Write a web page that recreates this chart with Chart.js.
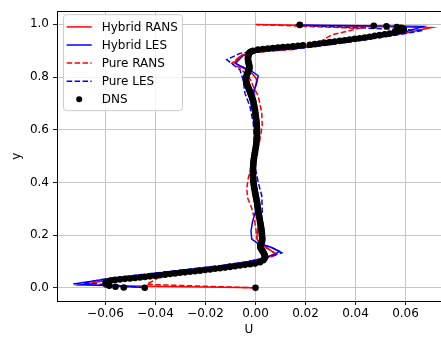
<!DOCTYPE html>
<html>
<head>
<meta charset="utf-8">
<script src="https://cdn.jsdelivr.net/npm/chart.js@4.4.0/dist/chart.umd.min.js"></script>
<style>
  html, body { margin: 0; padding: 0; background: #ffffff; }
  #wrap { width: 441px; height: 338px; }
</style>
</head>
<body>
<div id="wrap"><canvas id="c" width="441" height="338"></canvas></div>
<script>
// Axis ticks
const xTicks = [-0.06, -0.04, -0.02, 0.0, 0.02, 0.04, 0.06];
const xTickLabels = ['\u22120.06', '\u22120.04', '\u22120.02', '0.00', '0.02', '0.04', '0.06'];
const yTicks = [0.0, 0.2, 0.4, 0.6, 0.8, 1.0];
const yTickLabels = ['0.0', '0.2', '0.4', '0.6', '0.8', '1.0'];
const seriesNames = ['Hybrid RANS', 'Hybrid LES', 'Pure RANS', 'Pure LES', 'DNS'];

// Hybrid RANS profile
const hybridRansU = [0.0000, -0.0700, -0.0600, -0.0450, -0.0300, -0.0150, -0.0040, 0.0030, 0.0078, 0.0050,
  0.0015, 0.0005, 0.0010, 0.0014, 0.0006, -0.0004, -0.0008, -0.0004, 0.0004, 0.0006,
  0.0001, -0.0010, 0.0003, 0.0006, -0.0010, -0.0045, -0.0085, -0.0060, 0.0010, 0.0150,
  0.0300, 0.0450, 0.0600, 0.0703, 0.0005];
const hybridRansY = [0.0000, 0.0100, 0.0280, 0.0460, 0.0620, 0.0790, 0.0940, 0.1100, 0.1300, 0.1500,
  0.1680, 0.1900, 0.2300, 0.2800, 0.3300, 0.3900, 0.4500, 0.5100, 0.5700, 0.6300,
  0.6800, 0.7400, 0.7700, 0.7900, 0.8100, 0.8320, 0.8550, 0.8800, 0.8950, 0.9070,
  0.9250, 0.9450, 0.9670, 0.9880, 0.9995];

// Hybrid LES profile
const hybridLesU = [-0.0445, -0.0729, -0.0600, -0.0450, -0.0300, -0.0150, -0.0040, 0.0030, 0.0080, 0.0095,
  0.0060, 0.0010, -0.0015, -0.0018, -0.0012, 0.0000, 0.0004, -0.0001, -0.0008, -0.0008,
  -0.0002, 0.0004, 0.0006, 0.0002, -0.0006, -0.0006, 0.0005, 0.0011, -0.0020, -0.0060,
  -0.0080, -0.0050, 0.0020, 0.0150, 0.0300, 0.0450, 0.0580, 0.0671, 0.0160];
const hybridLesY = [0.0010, 0.0150, 0.0330, 0.0500, 0.0660, 0.0820, 0.0970, 0.1120, 0.1280, 0.1390,
  0.1550, 0.1680, 0.1850, 0.2150, 0.2500, 0.2900, 0.3300, 0.3700, 0.4200, 0.4700,
  0.5200, 0.5700, 0.6200, 0.6700, 0.7100, 0.7500, 0.7800, 0.8050, 0.8250, 0.8420,
  0.8520, 0.8820, 0.8980, 0.9080, 0.9260, 0.9460, 0.9660, 0.9925, 0.9980];

// Pure RANS profile
const pureRansU = [0.0000, -0.0435, -0.0362, -0.0250, -0.0150, -0.0040, 0.0040, 0.0088, 0.0050, 0.0015,
  0.0005, 0.0002, -0.0005, -0.0015, -0.0031, -0.0035, -0.0029, -0.0022, -0.0008, 0.0005,
  0.0018, 0.0027, 0.0025, 0.0011, -0.0009, -0.0020, -0.0060, -0.0095, -0.0055, 0.0020,
  0.0150, 0.0250, 0.0305, 0.0415, 0.0000];
const pureRansY = [0.0000, 0.0130, 0.0525, 0.0650, 0.0775, 0.0920, 0.1100, 0.1270, 0.1480, 0.1650,
  0.1900, 0.2200, 0.2650, 0.3020, 0.3400, 0.3770, 0.4150, 0.4400, 0.4800, 0.5150,
  0.5650, 0.6150, 0.6650, 0.7280, 0.7650, 0.7900, 0.8340, 0.8520, 0.8840, 0.8960,
  0.9050, 0.9300, 0.9600, 0.9850, 0.9995];

// Pure LES profile
const pureLesU = [-0.0445, -0.0690, -0.0600, -0.0450, -0.0300, -0.0150, -0.0040, 0.0040, 0.0105, 0.0070,
  0.0030, 0.0015, 0.0018, 0.0027, 0.0025, 0.0011, 0.0000, -0.0004, -0.0005, -0.0009,
  -0.0022, -0.0042, -0.0049, -0.0062, -0.0115, -0.0062, 0.0000, 0.0150, 0.0300, 0.0450,
  0.0580, 0.0670, 0.0160];
const pureLesY = [0.0010, 0.0185, 0.0340, 0.0510, 0.0670, 0.0830, 0.0980, 0.1130, 0.1330, 0.1500,
  0.1650, 0.1900, 0.2400, 0.2900, 0.3500, 0.4000, 0.4500, 0.5000, 0.5760, 0.6260,
  0.6880, 0.7380, 0.7880, 0.8270, 0.8660, 0.8900, 0.8990, 0.9060, 0.9230, 0.9430,
  0.9620, 0.9770, 0.9970];

// DNS samples, lower wall to upper wall
const dnsU = [
  0.0000, -0.0443, -0.0527, -0.0560, -0.0585, -0.0597, -0.0600, -0.0593, -0.0578,
  -0.0562, -0.0542, -0.0522, -0.0502, -0.0482, -0.0462, -0.0442, -0.0422, -0.0402, -0.0382,
  -0.0362, -0.0342, -0.0322, -0.0302, -0.0282, -0.0262, -0.0242, -0.0222, -0.0202, -0.0182,
  -0.0162, -0.0142, -0.0122, -0.0102, -0.0082, -0.0062, -0.0042, -0.0022, -0.0002, 0.0018,
  0.0031, 0.0036, 0.0038, 0.0037, 0.0034, 0.0030, 0.0026, 0.0022, 0.0019,
  0.0020, 0.0023, 0.0026, 0.0027, 0.0027, 0.0026, 0.0026, 0.0025, 0.0024, 0.0023, 0.0022, 0.0021, 0.0019, 0.0018,
  0.0017, 0.0015, 0.0014, 0.0012, 0.0011, 0.0010, 0.0009, 0.0008, 0.0007, 0.0006, 0.0004, 0.0003, 0.0001, 0.0000,
  -0.0002, -0.0003, -0.0005, -0.0006, -0.0007, -0.0008, -0.0009, -0.0009, -0.0010, -0.0010, -0.0010, -0.0010, -0.0010,
  -0.0009, -0.0009, -0.0008, -0.0007, -0.0006, -0.0005, -0.0003, -0.0002, -0.0001, 0.0001,
  0.0002, 0.0003, 0.0004, 0.0005, 0.0005, 0.0006, 0.0006, 0.0006, 0.0006, 0.0006,
  0.0005, 0.0005, 0.0004, 0.0003, 0.0002, 0.0001, 0.0000, -0.0001, -0.0002, -0.0004,
  -0.0005, -0.0007, -0.0008, -0.0010, -0.0013, -0.0015, -0.0018, -0.0021, -0.0023, -0.0026,
  -0.0029, -0.0032, -0.0035, -0.0037, -0.0038, -0.0038, -0.0036, -0.0034, -0.0031, -0.0028,
  -0.0025, -0.0024, -0.0025, -0.0026, -0.0028, -0.0029, -0.0030, -0.0030, -0.0030, -0.0029,
  -0.0027, -0.0025, -0.0022, -0.0017, -0.0010,
  0.0010, 0.0030, 0.0050, 0.0070, 0.0090, 0.0110, 0.0130, 0.0150, 0.0170, 0.0190,
  0.0217, 0.0237, 0.0257, 0.0277, 0.0297, 0.0317, 0.0337, 0.0357, 0.0377, 0.0397,
  0.0417, 0.0437, 0.0457, 0.0477, 0.0497, 0.0517, 0.0537, 0.0557, 0.0577,
  0.0588, 0.0593, 0.0591, 0.0582, 0.0565, 0.0524, 0.0473, 0.0177];
const dnsY = [
  0.0000, 0.0005, 0.0015, 0.0040, 0.0080, 0.0130, 0.0180, 0.0235, 0.0275,
  0.0300, 0.0320, 0.0340, 0.0355, 0.0375, 0.0395, 0.0413, 0.0435, 0.0458, 0.0480,
  0.0500, 0.0523, 0.0547, 0.0570, 0.0588, 0.0610, 0.0632, 0.0652, 0.0675, 0.0698,
  0.0722, 0.0745, 0.0768, 0.0795, 0.0822, 0.0848, 0.0873, 0.0898, 0.0920, 0.0970,
  0.105, 0.111, 0.117, 0.123, 0.130, 0.137, 0.143, 0.149, 0.155,
  0.162, 0.169, 0.176, 0.183, 0.190, 0.197, 0.204, 0.211, 0.218, 0.225, 0.232, 0.239, 0.246, 0.253,
  0.261, 0.268, 0.275, 0.282, 0.290, 0.297, 0.304, 0.311, 0.319, 0.326, 0.333, 0.341, 0.348, 0.356,
  0.363, 0.371, 0.378, 0.386, 0.393, 0.401, 0.408, 0.416, 0.424, 0.431, 0.439, 0.446, 0.454,
  0.462, 0.469, 0.477, 0.485, 0.492, 0.500, 0.508, 0.515, 0.523, 0.531,
  0.538, 0.546, 0.554, 0.561, 0.569, 0.577, 0.584, 0.592, 0.600, 0.607,
  0.615, 0.622, 0.630, 0.637, 0.645, 0.652, 0.660, 0.667, 0.675, 0.682,
  0.690, 0.697, 0.704, 0.712, 0.719, 0.726, 0.733, 0.740, 0.747, 0.754,
  0.761, 0.768, 0.775, 0.782, 0.789, 0.796, 0.803, 0.810, 0.817, 0.823,
  0.830, 0.836, 0.842, 0.848, 0.854, 0.860, 0.866, 0.871, 0.876, 0.881,
  0.886, 0.890, 0.894, 0.897, 0.900,
  0.9040, 0.9060, 0.9085, 0.9100, 0.9125, 0.9140, 0.9150, 0.9165, 0.9190, 0.9210,
  0.9225, 0.9250, 0.9275, 0.9300, 0.9325, 0.9350, 0.9375, 0.9400, 0.9425, 0.9450,
  0.9475, 0.9500, 0.9530, 0.9565, 0.9590, 0.9625, 0.9650, 0.9690, 0.9750,
  0.9780, 0.9810, 0.9840, 0.9870, 0.9900, 0.9930, 0.9945, 0.9980];

function zipPoints(us, ys) {
  const n = Math.min(us.length, ys.length);
  const pts = [];
  for (let i = 0; i < n; i++) pts.push({ x: us[i], y: ys[i] });
  return pts;
}

const FONT = "'DejaVu Sans', 'Liberation Sans', sans-serif";
Chart.defaults.font.family = FONT;
Chart.defaults.font.size = 12;
Chart.defaults.color = '#000000';

const dashPattern = [5.5, 2.4];

const lineSet = (label, us, ys, color, dashed, order) => ({
  label,
  data: zipPoints(us, ys),
  showLine: true,
  borderColor: color,
  backgroundColor: color,
  borderWidth: 1.5,
  borderDash: dashed ? dashPattern : [],
  pointRadius: 0,
  pointHoverRadius: 0,
  tension: 0,
  order
});

// Legend box in the upper-left corner of the plotting area
const legendBox = {
  id: 'legendBox',
  afterDatasetsDraw(chart) {
    const { ctx, chartArea } = chart;
    const x0 = chartArea.left + 6.5, y0 = chartArea.top + 3.5, w = 119, h = 96, r = 3;
    ctx.save();
    ctx.beginPath();
    ctx.moveTo(x0 + r, y0);
    ctx.lineTo(x0 + w - r, y0);
    ctx.arcTo(x0 + w, y0, x0 + w, y0 + r, r);
    ctx.lineTo(x0 + w, y0 + h - r);
    ctx.arcTo(x0 + w, y0 + h, x0 + w - r, y0 + h, r);
    ctx.lineTo(x0 + r, y0 + h);
    ctx.arcTo(x0, y0 + h, x0, y0 + h - r, r);
    ctx.lineTo(x0, y0 + r);
    ctx.arcTo(x0, y0, x0 + r, y0, r);
    ctx.closePath();
    ctx.fillStyle = 'rgba(255,255,255,0.8)';
    ctx.fill();
    ctx.strokeStyle = '#cccccc';
    ctx.lineWidth = 1;
    ctx.stroke();

    chart.data.datasets.forEach((d, i) => {
      const cy = y0 + 12.2 + i * 18.1;
      const hx0 = x0 + 3.2, hx1 = x0 + 28.2;
      if (d.showLine) {
        ctx.beginPath();
        ctx.setLineDash(d.borderDash || []);
        ctx.strokeStyle = d.borderColor;
        ctx.lineWidth = d.borderWidth;
        ctx.moveTo(hx0, cy);
        ctx.lineTo(hx1, cy);
        ctx.stroke();
        ctx.setLineDash([]);
      } else {
        ctx.beginPath();
        ctx.fillStyle = d.backgroundColor;
        ctx.arc((hx0 + hx1) / 2, cy, 3, 0, Math.PI * 2);
        ctx.fill();
      }
      ctx.fillStyle = '#000000';
      ctx.font = '12px ' + FONT;
      ctx.textAlign = 'left';
      ctx.textBaseline = 'middle';
      ctx.fillText(d.label, x0 + 38.2, cy + 0.5);
    });
    ctx.restore();
  }
};

new Chart(document.getElementById('c'), {
  type: 'scatter',
  data: {
    datasets: [
      lineSet(seriesNames[0], hybridRansU, hybridRansY, '#ff0000', false, 5),
      lineSet(seriesNames[1], hybridLesU, hybridLesY, '#0000ff', false, 4),
      lineSet(seriesNames[2], pureRansU, pureRansY, '#ff0000', true, 3),
      lineSet(seriesNames[3], pureLesU, pureLesY, '#0000ff', true, 2),
      {
        label: seriesNames[4],
        data: zipPoints(dnsU, dnsY),
        showLine: false,
        pointRadius: 3.3,
        pointHoverRadius: 3.3,
        pointBorderWidth: 0,
        backgroundColor: '#000000',
        borderColor: '#000000',
        order: 1
      }
    ]
  },
  options: {
    responsive: false,
    animation: false,
    events: [],
    layout: { padding: 0, autoPadding: false },
    plugins: { legend: { display: false }, tooltip: { enabled: false } },
    scales: {
      x: {
        type: 'linear',
        position: 'bottom',
        min: -0.0794,
        max: 0.0742,
        afterBuildTicks: s => { s.ticks = xTicks.map(v => ({ value: v })); },
        afterFit: s => { s.height = 37; },
        ticks: {
          autoSkip: false, maxRotation: 0, padding: 2,
          font: { size: 12 }, color: '#000000',
          callback: (v, i) => xTickLabels[i]
        },
        grid: { color: '#c6c6c6', lineWidth: 1, tickLength: 4, tickColor: '#000000', tickWidth: 0.9 },
        border: { display: true, color: '#000000', width: 1 },
        title: { display: true, text: 'U', font: { size: 12 }, color: '#000000', padding: { top: 0, bottom: 0.8 } }
      },
      xTop: {
        type: 'linear',
        position: 'top',
        min: -0.0794,
        max: 0.0742,
        afterFit: s => { s.height = 8; },
        ticks: { display: false },
        grid: { display: false, drawTicks: false },
        border: { display: true, color: '#000000', width: 1 }
      },
      y: {
        type: 'linear',
        position: 'left',
        min: -0.05,
        max: 1.05,
        afterBuildTicks: s => { s.ticks = yTicks.map(v => ({ value: v })); },
        afterFit: s => { s.width = 57; },
        ticks: {
          autoSkip: false, padding: 4,
          font: { size: 12 }, color: '#000000',
          callback: (v, i) => yTickLabels[i]
        },
        grid: { color: '#c6c6c6', lineWidth: 1, tickLength: 4, tickColor: '#000000', tickWidth: 0.9 },
        border: { display: true, color: '#000000', width: 1 },
        title: { display: true, text: 'y', font: { size: 12 }, color: '#000000', padding: { top: 9.3, bottom: 0 } }
      }
    }
  },
  plugins: [legendBox]
});
</script>
</body>
</html>
